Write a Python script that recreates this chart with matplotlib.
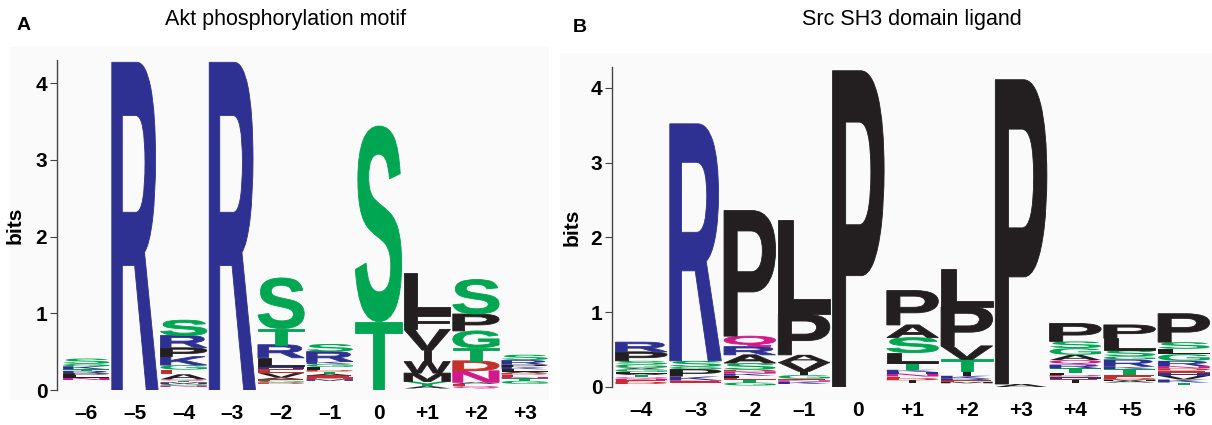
import matplotlib
matplotlib.use('Agg')
import matplotlib.pyplot as plt
from matplotlib.textpath import TextPath
from matplotlib.patches import PathPatch, Rectangle
from matplotlib.font_manager import FontProperties
from matplotlib.transforms import Affine2D

plt.rcParams['font.family'] = ['Liberation Sans', 'DejaVu Sans']

# ---- Panel A: Akt phosphorylation motif (letters bottom -> top, heights in bits)
akt_labels = ['–6', '–5', '–4', '–3', '–2', '–1', '0', '+1', '+2', '+3']
akt_floor = [0.13, 0, 0.04, 0, 0.08, 0.12, 0, 0.02, 0.02, 0.08]
akt_letters = ['NLPRTKGS', 'R', 'NGMTQAEGKPRS', 'R', 'DGEAVEHLRTS',
               'MNEATDLGKRS', 'TS', 'AYMWIVFL', 'QEANDTGPS', 'GTNEDALKPRS']
akt_bits = [
    [.03, .03, .03, .03, .02, .04, .03, .07],
    [4.27],
    [.02, .02, .02, .02, .02, .065, .06, .06, .11, .115, .16, .20],
    [4.27],
    [.02, .02, .02, .02, .06, .05, .04, .11, .17, .21, .66],
    [.02, .02, .03, .02, .03, .02, .04, .04, .03, .13, .10],
    [.89, 2.55],
    [.03, .06, .11, .15, .15, .27, .21, .53],
    [.03, .03, .02, .15, .13, .17, .22, .22, .45],
    [.04, .03, .02, .03, .02, .02, .03, .03, .03, .06, .07],
]

# ---- Panel B: Src SH3 domain ligand
src_labels = ['–4', '–3', '–2', '–1', '0', '+1', '+2', '+3', '+4', '+5', '+6']
src_floor = [0.04, 0.06, 0.02, 0.04, 0, 0.06, 0.05, 0, 0.05, 0.06, 0.03]
src_letters = ['DENQTALGVGSPR', 'ENKPGSR', 'GTELKNDSARQP', 'KNEGIVAPL', 'P',
               'IDENHKTLSAP', 'MERKITVPL', 'AP', 'IEHDLTRQAGSP',
               'AMDETKRGSLP', 'TKVHEDNRGLSP']
src_bits = [
    [.03, .02, .02, .02, .03, .02, .02, .04, .02, .04, .05, .12, .13],
    [.015, .015, .05, .10, .03, .08, 3.17],
    [.04, .04, .02, .03, .03, .03, .02, .09, .11, .11, .14, 1.68],
    [.03, .02, .02, .05, .05, .12, .10, .54, 1.27],
    [4.23],
    [.03, .03, .02, .04, .02, .03, .09, .14, .20, .17, .46],
    [.02, .02, .02, .04, .07, .15, .18, .52, .51],
    [.04, 4.07],
    [.04, .02, .03, .02, .03, .06, .05, .06, .07, .09, .09, .24],
    [.02, .02, .02, .04, .08, .03, .10, .04, .08, .16, .18],
    [.03, .04, .05, .04, .03, .03, .03, .07, .09, .07, .09, .38],
]

blue, green, red, magenta, black = '#2E3192', '#00A651', '#C4302B', '#D3188C', '#231F20'
colors = {}
for aa in 'RKH':
    colors[aa] = blue
for aa in 'STGYC':
    colors[aa] = green
for aa in 'DE':
    colors[aa] = red
for aa in 'NQ':
    colors[aa] = magenta
for aa in 'AVLIPWFM':
    colors[aa] = black

glyph_font = FontProperties(family='Liberation Sans', weight='bold')


def draw_letter(ax, letter, x, y, h, w):
    tp = TextPath((0, 0), letter, size=1, prop=glyph_font)
    bb = tp.get_extents()
    tr = Affine2D().translate(-bb.x0, -bb.y0).scale(w / bb.width, h / bb.height).translate(x - w / 2, y)
    # thin outline only on the larger glyphs, so tiny ones stay as hairlines
    lw = 0.6 if h > 0.1 else 0
    ax.add_patch(PathPatch(tr.transform_path(tp), fc=colors[letter], ec=colors[letter], lw=lw))


def draw_logo(ax, letters, bits, floors, labels, xlim, ylim, label_x):
    for i, (col, hs, base) in enumerate(zip(letters, bits, floors)):
        y = base
        for ch, h in zip(col, hs):
            w = 0.14 if ch == 'I' else 0.95
            draw_letter(ax, ch, i, y, h, w)
            y += h
    ax.set_xlim(*xlim)
    ax.set_ylim(*ylim)
    ax.set_facecolor('none')
    for s in ['top', 'right', 'bottom']:
        ax.spines[s].set_visible(False)
    ax.spines['left'].set_color('#444444')
    ax.spines['left'].set_linewidth(1)
    ax.set_yticks([0, 1, 2, 3, 4])
    ax.tick_params(axis='y', length=5, width=0.8, color='#444444', pad=2, labelsize=15)
    for lbl in ax.get_yticklabels():
        lbl.set_fontweight('bold')
    ax.set_xticks(range(len(labels)))
    ax.set_xticklabels(labels, fontweight='bold', fontsize=15)
    ax.tick_params(axis='x', length=0, pad=10)
    ax.set_ylabel('bits', fontweight='bold', fontsize=15)
    ax.yaxis.set_label_coords(label_x, 0.5)


fig = plt.figure(figsize=(12.12, 4.25), dpi=100)
fig.patches.append(Rectangle((10 / 1212, 25 / 425), 539 / 1212, 353 / 425, transform=fig.transFigure,
                             fc='#fafafa', ec='none', zorder=-1))
fig.patches.append(Rectangle((560 / 1212, 25 / 425), 652 / 1212, 347 / 425, transform=fig.transFigure,
                             fc='#fafafa', ec='none', zorder=-1))

ax1 = fig.add_axes([57 / 1212, 35 / 425, 492 / 1212, 330 / 425])
draw_logo(ax1, akt_letters, akt_bits, akt_floor, akt_labels, (-0.6, 9.5), (0, 4.3), -0.065)

ax2 = fig.add_axes([612 / 1212, 38 / 425, 599 / 1212, 320 / 425])
draw_logo(ax2, src_letters, src_bits, src_floor, src_labels, (-0.54, 10.5), (0, 4.28), -0.05)

fig.text(286 / 1212, 1 - 20 / 425, 'Akt phosphorylation motif', fontsize=15.5, ha='center', va='center')
fig.text(912 / 1212, 1 - 20 / 425, 'Src SH3 domain ligand', fontsize=15.5, ha='center', va='center')
fig.text(24 / 1212, 1 - 25 / 425, 'A', fontsize=14, fontweight='bold', ha='center', va='center')
fig.text(580 / 1212, 1 - 28 / 425, 'B', fontsize=14, fontweight='bold', ha='center', va='center')

fig.savefig('out.png', dpi=100)
